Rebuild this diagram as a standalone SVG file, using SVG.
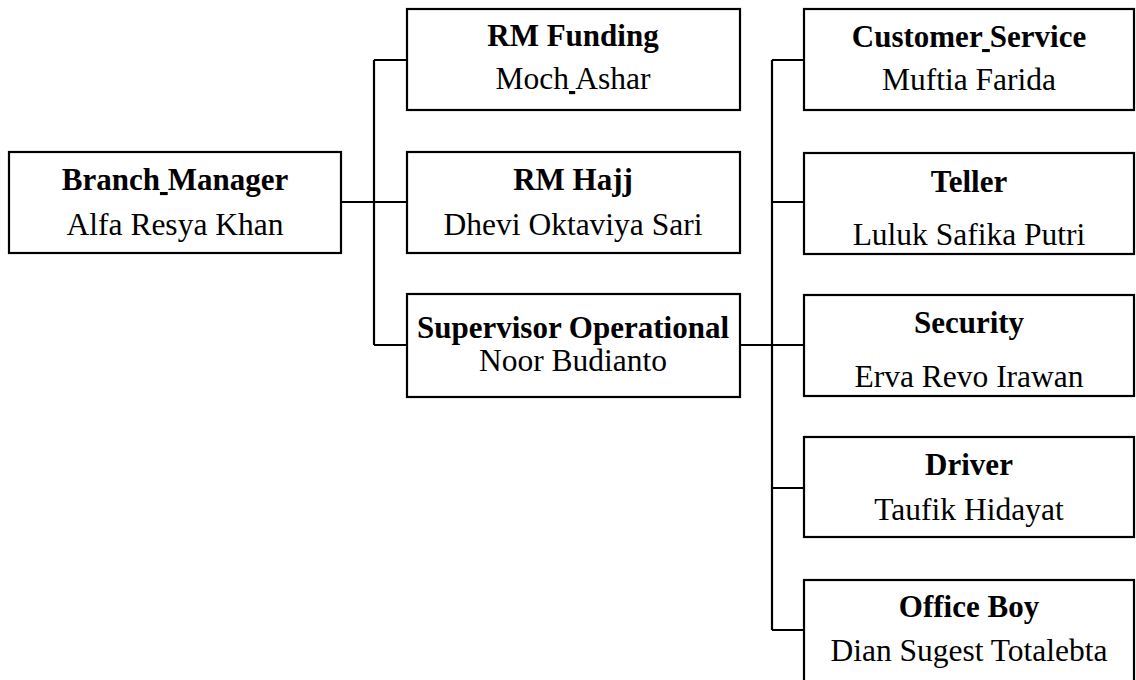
<svg xmlns="http://www.w3.org/2000/svg" width="1136" height="680" viewBox="0 0 1136 680">
<style>
.box{fill:#fff;stroke:#000;stroke-width:2.2}
.ln{fill:none;stroke:#000;stroke-width:2.2}
.t{font-family:"Liberation Serif","Times New Roman",serif;font-size:31px;font-weight:bold;text-anchor:middle;fill:#000}
.n{font-family:"Liberation Serif","Times New Roman",serif;font-size:31.5px;text-anchor:middle;fill:#000}
.u{text-decoration:underline}
</style>
<rect width="1136" height="680" fill="#fff"/>
<g id="connectors">
<path class="ln" d="M341,202 H407 M374,60 V345 M374,60 H407 M374,345 H407"/>
<path class="ln" d="M740,345 H804 M772,60 V630 M772,60 H804 M772,202 H804 M772,488 H804 M772,630 H804"/>
</g>
<g id="branch-manager">
<rect class="box" x="9" y="152" width="332" height="101"/>
<text class="t" x="175" y="190">Branch<tspan class="u"> </tspan>Manager</text>
<text class="n" x="175" y="235">Alfa Resya Khan</text>
</g>
<g id="rm-funding">
<rect class="box" x="407" y="9" width="333" height="101"/>
<text class="t" x="573" y="46">RM Funding</text>
<text class="n" x="573" y="89">Moch<tspan class="u"> </tspan>Ashar</text>
</g>
<g id="rm-hajj">
<rect class="box" x="407" y="152" width="333" height="101"/>
<text class="t" x="573" y="190">RM Hajj</text>
<text class="n" x="573" y="235">Dhevi Oktaviya Sari</text>
</g>
<g id="supervisor">
<rect class="box" x="407" y="294" width="333" height="103"/>
<text class="t" x="573" y="338">Supervisor Operational</text>
<text class="n" x="573" y="371">Noor Budianto</text>
</g>
<g id="customer-service">
<rect class="box" x="804" y="9" width="330" height="101"/>
<text class="t" x="969" y="47">Customer<tspan class="u"> </tspan>Service</text>
<text class="n" x="969" y="90">Muftia Farida</text>
</g>
<g id="teller">
<rect class="box" x="804" y="153" width="330" height="101"/>
<text class="t" x="969" y="192">Teller</text>
<text class="n" x="969" y="245">Luluk Safika Putri</text>
</g>
<g id="security">
<rect class="box" x="804" y="295" width="330" height="101"/>
<text class="t" x="969" y="333">Security</text>
<text class="n" x="969" y="387">Erva Revo Irawan</text>
</g>
<g id="driver">
<rect class="box" x="804" y="437" width="330" height="100"/>
<text class="t" x="969" y="475">Driver</text>
<text class="n" x="969" y="520">Taufik Hidayat</text>
</g>
<g id="office-boy">
<rect class="box" x="804" y="580" width="330" height="110"/>
<text class="t" x="969" y="617">Office Boy</text>
<text class="n" x="969" y="661">Dian Sugest Totalebta</text>
</g>
</svg>
